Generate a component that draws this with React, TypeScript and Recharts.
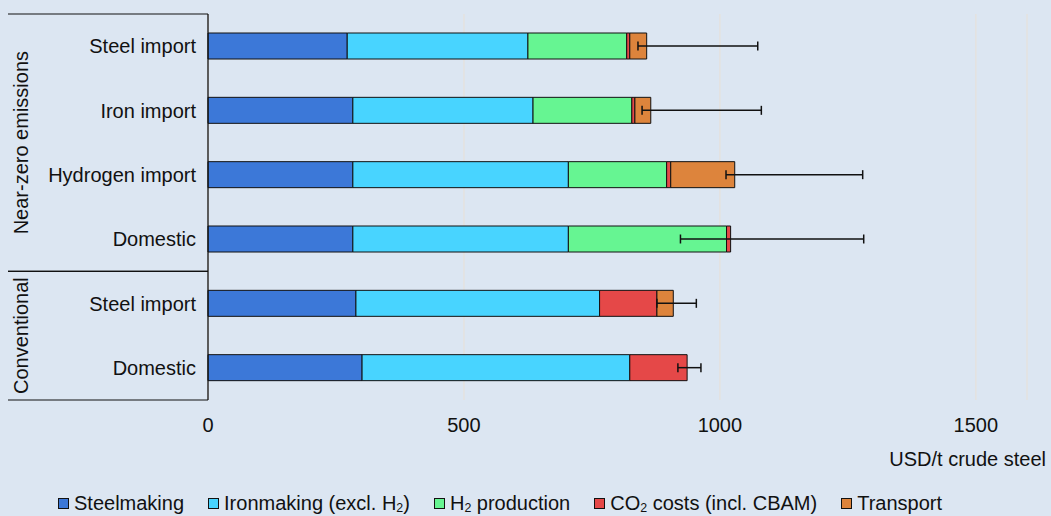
import React from "react";
import {
  BarChart,
  Bar,
  XAxis,
  YAxis,
  CartesianGrid,
  ErrorBar,
  Legend,
} from "recharts";

// ---------------------- DATA ----------------------
// USD per tonne of crude steel
const categories = ["nz-steel", "nz-iron", "nz-h2", "nz-dom", "cv-steel", "cv-dom"];
const categoryLabels = [
  "Steel import",
  "Iron import",
  "Hydrogen import",
  "Domestic",
  "Steel import",
  "Domestic",
];
const groups = [
  { label: "Near-zero emissions", first: 0, last: 3 },
  { label: "Conventional", first: 4, last: 5 },
];

const steelmaking = [272, 283, 283, 283, 289, 301];
const ironmaking = [353, 352, 421, 421, 476, 523];
const h2Production = [193, 193, 192, 309, 0, 0];
const co2Costs = [6, 6, 8, 8, 112, 112];
const transport = [33, 31, 125, 0, 32, 0];

// cost range (error bars), absolute bounds
const rangeLow = [840, 848, 1012, 923, 877, 918];
const rangeHigh = [1074, 1081, 1279, 1281, 954, 963];

const xTicks = [0, 500, 1000, 1500];

const series = [
  { key: "steelmaking", name: "Steelmaking", color: "#3C78D8" },
  { key: "ironmaking", name: "Ironmaking (excl. H₂)", color: "#48D4FF" },
  { key: "h2", name: "H₂ production", color: "#66F592" },
  { key: "co2", name: "CO₂ costs (incl. CBAM)", color: "#E54848" },
  { key: "transport", name: "Transport", color: "#DD843C" },
];

const data = categories.map((id, i) => {
  const total =
    steelmaking[i] + ironmaking[i] + h2Production[i] + co2Costs[i] + transport[i];
  return {
    id,
    steelmaking: steelmaking[i],
    ironmaking: ironmaking[i],
    h2: h2Production[i],
    co2: co2Costs[i],
    transport: transport[i],
    total,
    err: [total - rangeLow[i], rangeHigh[i] - total],
  };
});

const FONT = "'Liberation Sans', Arial, sans-serif";
const BG = "#DCE6F2";
const INK = "#111";

const withSub = (name: string) => {
  const parts = name.split("₂");
  return parts.map((p, i) => (
    <React.Fragment key={i}>
      {p}
      {i < parts.length - 1 && (
        <sub style={{ fontSize: "0.62em", verticalAlign: "-0.2em", lineHeight: 0 }}>2</sub>
      )}
    </React.Fragment>
  ));
};

const CategoryTick = (props: any) => {
  const { x, y, payload, index } = props;
  const half = payload?.offset || 32.17;
  const axisX = x + 12;
  const idx = typeof index === "number" ? index : payload.index;
  const extras: React.ReactNode[] = [];
  groups.forEach((g) => {
    if (idx === g.first) {
      extras.push(
        <line key={"t" + g.label} x1={8} x2={axisX} y1={y - half} y2={y - half} stroke={INK} strokeWidth={1.2} />
      );
    }
    if (idx === g.last) {
      extras.push(
        <line key={"b" + g.label} x1={8} x2={axisX} y1={y + half} y2={y + half} stroke={INK} strokeWidth={1.2} />
      );
    }
    const mid = (g.first + g.last) / 2;
    if (idx === Math.floor(mid)) {
      const cy = y + (mid - idx) * 2 * half;
      extras.push(
        <text
          key={"l" + g.label}
          x={28}
          y={cy}
          transform={`rotate(-90 28 ${cy})`}
          textAnchor="middle"
          fontSize={20}
          fontFamily={FONT}
          fill={INK}
        >
          {g.label}
        </text>
      );
    }
  });
  return (
    <g>
      <text x={x} y={y} dy="0.35em" textAnchor="end" fontSize={20} fontFamily={FONT} fill={INK}>
        {categoryLabels[idx]}
      </text>
      {extras}
    </g>
  );
};

const LegendContent = () => (
  <div
    style={{
      height: 30,
      boxSizing: "border-box",
      paddingTop: 5,
      display: "flex",
      alignItems: "center",
      paddingLeft: 58,
      fontSize: 20,
      lineHeight: "23px",
      fontFamily: FONT,
      color: INK,
      whiteSpace: "nowrap",
    }}
  >
    {series.map((s) => (
      <div key={s.key} style={{ display: "flex", alignItems: "center", marginRight: 24 }}>
        <span
          style={{
            width: 9,
            height: 9,
            background: s.color,
            border: `1px solid ${INK}`,
            marginRight: 5,
            display: "inline-block",
          }}
        />
        <span>{withSub(s.name)}</span>
      </div>
    ))}
  </div>
);

export default function App() {
  return (
    <div style={{ position: "absolute", left: 0, top: 0, width: 1051, height: 516, background: BG }}>
      <BarChart
        width={1051}
        height={516}
        data={data}
        layout="vertical"
        margin={{ top: 14, right: 24, bottom: 0, left: 0 }}
        barSize={26}
      >
        <CartesianGrid horizontal={false} stroke="#E4E2DF" strokeWidth={1.5} />
        <XAxis
          type="number"
          domain={[0, 1600]}
          ticks={xTicks}
          axisLine={false}
          tickLine={false}
          tickSize={0}
          tickMargin={18}
          height={86}
          tick={{ fontSize: 20, fontFamily: FONT, fill: INK }}
          label={{
            content: (p: any) => {
              const vb = p.viewBox || { x: 0, y: 400, width: 1027 };
              return (
                <text
                  x={vb.x + vb.width + 19}
                  y={vb.y + 66}
                  textAnchor="end"
                  fontSize={20}
                  fontFamily={FONT}
                  fill={INK}
                >
                  USD/t crude steel
                </text>
              );
            },
          }}
        />
        <YAxis
          type="category"
          dataKey="id"
          width={208}
          axisLine={{ stroke: INK, strokeWidth: 1.3 }}
          tickLine={false}
          tickSize={0}
          tickMargin={12}
          interval={0}
          tick={<CategoryTick />}
        />
        {/* hidden twin axis carrying the cost ranges on the stack totals */}
        <YAxis yAxisId="range" type="category" dataKey="id" hide />
        <Legend verticalAlign="bottom" content={<LegendContent />} />
        {series.map((s) => (
          <Bar
            key={s.key}
            dataKey={s.key}
            name={s.name}
            stackId="cost"
            fill={s.color}
            stroke={INK}
            strokeWidth={1}
            isAnimationActive={false}
          />
        ))}
        <Bar
          dataKey="total"
          yAxisId="range"
          fill="none"
          stroke="none"
          legendType="none"
          isAnimationActive={false}
        >
          <ErrorBar dataKey="err" direction="x" width={4.5} stroke={INK} strokeWidth={1.5} />
        </Bar>
      </BarChart>
    </div>
  );
}
